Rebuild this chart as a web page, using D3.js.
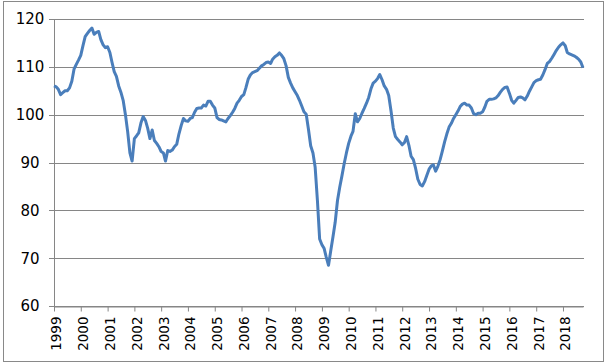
<!DOCTYPE html>
<html>
<head>
<meta charset="utf-8">
<script src="https://cdn.jsdelivr.net/npm/d3@7"></script>
<style>
  body { margin: 0; background: #fff; }
  svg text { font-family: "DejaVu Sans", Verdana, sans-serif; fill: #000; }
</style>
</head>
<body>
<svg id="chart" width="607" height="363"></svg>
<script>
// monthly index values, one array per year (Jan..Dec)
var years = [1999, 2000, 2001, 2002, 2003, 2004, 2005, 2006, 2007, 2008,
             2009, 2010, 2011, 2012, 2013, 2014, 2015, 2016, 2017, 2018];
var v1999 = [106.0, 105.8, 105.3, 104.2, 104.6, 105.0, 105.0, 105.6, 107.0, 109.5, 110.5, 111.4];
var v2000 = [112.4, 114.5, 116.3, 117.0, 117.6, 118.1, 116.8, 117.2, 117.4, 115.7, 114.6, 114.0];
var v2001 = [114.2, 113.0, 111.0, 109.0, 108.0, 106.0, 104.7, 103.0, 100.0, 96.5, 92.0, 90.3];
var v2002 = [95.0, 95.6, 96.2, 98.3, 99.6, 98.8, 97.2, 95.0, 96.8, 94.6, 94.0, 93.3];
var v2003 = [92.3, 92.0, 90.3, 92.5, 92.3, 92.6, 93.3, 93.8, 96.0, 97.7, 99.2, 98.7];
var v2004 = [98.6, 99.2, 99.4, 100.5, 101.3, 101.4, 101.4, 102.0, 101.8, 102.8, 102.8, 102.0];
var v2005 = [101.4, 99.4, 99.0, 98.9, 98.7, 98.5, 99.2, 99.8, 100.5, 101.3, 102.4, 103.0];
var v2006 = [103.8, 104.2, 105.6, 107.4, 108.3, 108.8, 109.0, 109.2, 109.7, 110.2, 110.5, 110.9];
var v2007 = [111.0, 110.7, 111.6, 112.1, 112.4, 112.9, 112.4, 111.7, 110.2, 107.8, 106.6, 105.6];
var v2008 = [104.8, 104.0, 103.0, 101.8, 100.6, 100.1, 97.0, 93.5, 92.0, 89.0, 82.0, 74.0];
var v2009 = [72.8, 72.0, 70.2, 68.5, 71.5, 74.5, 77.5, 82.0, 84.8, 87.2, 89.8, 92.0];
var v2010 = [94.0, 95.5, 96.5, 100.2, 98.5, 99.2, 100.3, 101.3, 102.4, 103.6, 105.4, 106.6];
var v2011 = [107.0, 107.6, 108.4, 107.3, 106.0, 105.3, 104.0, 100.8, 97.2, 95.4, 94.8, 94.3];
var v2012 = [93.7, 94.2, 95.4, 93.6, 91.3, 90.6, 88.8, 86.5, 85.4, 85.1, 86.0, 87.3];
var v2013 = [88.6, 89.3, 89.5, 88.2, 89.2, 90.6, 92.4, 94.3, 96.0, 97.4, 98.2, 99.2];
var v2014 = [100.0, 100.8, 101.7, 102.2, 102.4, 102.0, 102.0, 101.4, 100.2, 100.0, 100.3, 100.3];
var v2015 = [100.6, 101.6, 102.8, 103.2, 103.2, 103.3, 103.5, 104.0, 104.7, 105.3, 105.7, 105.8];
var v2016 = [104.5, 103.0, 102.4, 103.0, 103.6, 103.7, 103.5, 103.1, 103.9, 104.9, 105.8, 106.7];
var v2017 = [107.1, 107.3, 107.4, 108.3, 109.4, 110.7, 111.1, 111.8, 112.6, 113.4, 114.1, 114.6];
var v2018 = [115.0, 114.4, 113.0, 112.7, 112.5, 112.3, 112.0, 111.6, 111.0, 109.8];
var monthly = [v1999, v2000, v2001, v2002, v2003, v2004, v2005, v2006, v2007, v2008,
               v2009, v2010, v2011, v2012, v2013, v2014, v2015, v2016, v2017, v2018];
var yTicks = [60, 70, 80, 90, 100, 110, 120];

var data = [];
years.forEach(function(yr, i) {
  monthly[i].forEach(function(v, j) {
    data.push({ date: new Date(yr, j, 1), value: v });
  });
});

var svg = d3.select("#chart");
var plotLeft = 54, plotRight = 584, plotTop = 19, plotBottom = 306;

// chart area border
svg.append("rect")
  .attr("x", 3.5).attr("y", 1.5)
  .attr("width", 600).attr("height", 360)
  .attr("fill", "#fff").attr("stroke", "#898989");

var x = d3.scaleTime()
  .domain([data[0].date, data[data.length - 1].date])
  .range([plotLeft, 583]);

var y = d3.scaleLinear().domain([60, 120]).range([plotBottom, plotTop]);

// gridlines
svg.append("g")
  .selectAll("line")
  .data(yTicks)
  .enter().append("line")
  .attr("x1", 49).attr("x2", plotRight)
  .attr("y1", function(d) { return Math.round(y(d)) + 0.5; })
  .attr("y2", function(d) { return Math.round(y(d)) + 0.5; })
  .attr("stroke", "#868686");

// y labels
svg.append("g")
  .selectAll("text")
  .data(yTicks)
  .enter().append("text")
  .attr("x", 30)
  .attr("y", function(d) { return y(d); })
  .attr("dy", "0.36em")
  .attr("text-anchor", "middle")
  .style("font-size", "15px")
  .text(function(d) { return d; });

// y axis line
svg.append("line")
  .attr("x1", plotLeft + 0.5).attr("x2", plotLeft + 0.5)
  .attr("y1", plotTop).attr("y2", plotBottom)
  .attr("stroke", "#868686");

// x axis
var xAxis = svg.append("g")
  .attr("transform", "translate(0," + (plotBottom + 0.5) + ")")
  .call(d3.axisBottom(x)
    .tickValues(years.map(function(yr) { return new Date(yr, 0, 1); }))
    .tickFormat(d3.timeFormat("%Y"))
    .tickSizeInner(5).tickSizeOuter(0));

xAxis.select(".domain").attr("stroke", "#868686");
xAxis.selectAll(".tick line").attr("stroke", "#868686");
xAxis.selectAll(".tick text")
  .attr("transform", "rotate(-90)")
  .attr("x", -10)
  .attr("y", 2)
  .attr("dy", "0.36em")
  .attr("text-anchor", "end")
  .style("font-size", "13.5px")
  .style("font-family", "'DejaVu Sans', Verdana, sans-serif")
  .attr("fill", "#000");

// series line
var line = d3.line()
  .x(function(d) { return x(d.date); })
  .y(function(d) { return y(d.value); });

svg.append("path")
  .datum(data)
  .attr("d", line)
  .attr("fill", "none")
  .attr("stroke", "#4a7ebb")
  .attr("stroke-width", 3)
  .attr("stroke-linejoin", "round");
</script>
</body>
</html>
